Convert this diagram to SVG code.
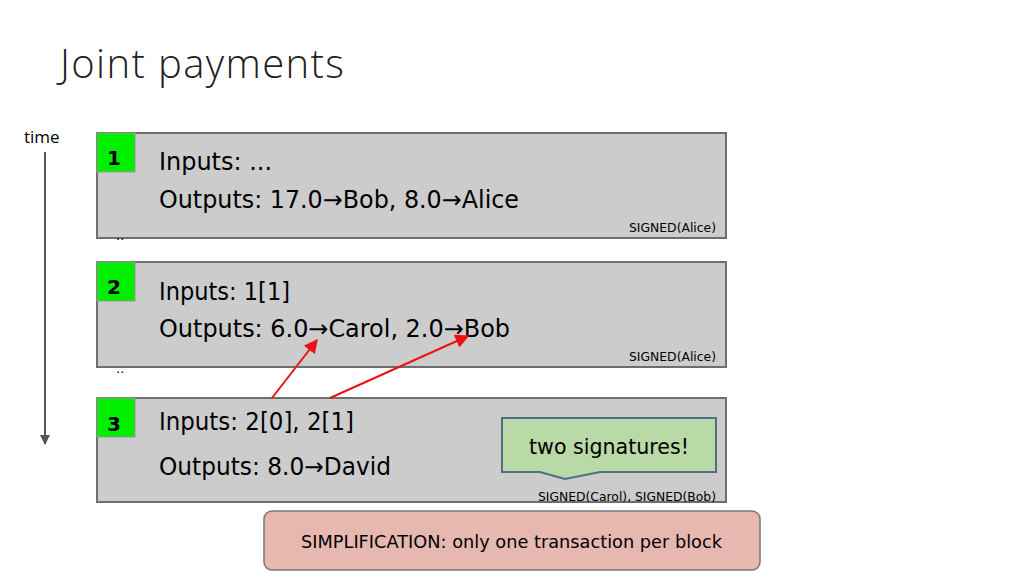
<svg xmlns="http://www.w3.org/2000/svg" width="1024" height="576" viewBox="0 0 1024 576">
<style>
.blk{fill:#cccccc;stroke:#6e6e6e;stroke-width:2}
.num{fill:#00ee00;stroke:#999;stroke-width:1}
.t{font-family:"DejaVu Sans",sans-serif;fill:#000}
.m{font-size:24px}
.s{font-size:13px}
.n{font-size:20px;font-weight:bold}
.arr{stroke:#ee1111;stroke-width:2;fill:none}
</style>
<defs>
<marker id="ra" viewBox="0 0 10 10" refX="9" refY="5" markerWidth="7" markerHeight="7" orient="auto"><path d="M0,0L10,5L0,10z" fill="#ee1111"/></marker>
<marker id="ga" viewBox="0 0 10 10" refX="9" refY="5" markerWidth="5" markerHeight="5" orient="auto"><path d="M0,0L10,5L0,10z" fill="#555"/></marker>
</defs>
<rect width="1024" height="576" fill="#fff"/>
<text x="60" y="78" font-family="Open Sans,Liberation Sans,sans-serif" font-weight="300" font-size="40" fill="#222" textLength="284">Joint payments</text>
<text x="24" y="143" font-family="Open Sans,Liberation Sans,sans-serif" font-size="17">time</text>
<line x1="45" y1="152" x2="45" y2="444" stroke="#555" stroke-width="2" marker-end="url(#ga)"/>
<g id="b1">
<rect x="97" y="133" width="629" height="105" class="blk"/>
<rect x="97" y="133" width="38" height="39" class="num"/>
<text x="107" y="165" class="t n">1</text>
<text x="159" y="170" class="t m" textLength="113" lengthAdjust="spacingAndGlyphs">Inputs: ...</text>
<text x="159" y="208" class="t m" textLength="360" lengthAdjust="spacingAndGlyphs">Outputs: 17.0→Bob, 8.0→Alice</text>
<text x="716" y="232" class="t s" text-anchor="end" textLength="87" lengthAdjust="spacingAndGlyphs">SIGNED(Alice)</text>
<text x="116" y="240" class="t s">..</text>
</g>
<g id="b2">
<rect x="97" y="262" width="629" height="105" class="blk"/>
<rect x="97" y="262" width="38" height="39" class="num"/>
<text x="107" y="294" class="t n">2</text>
<text x="159" y="300" class="t m" textLength="131" lengthAdjust="spacingAndGlyphs">Inputs: 1[1]</text>
<text x="159" y="337" class="t m" textLength="351" lengthAdjust="spacingAndGlyphs">Outputs: 6.0→Carol, 2.0→Bob</text>
<text x="716" y="361" class="t s" text-anchor="end" textLength="87" lengthAdjust="spacingAndGlyphs">SIGNED(Alice)</text>
<text x="116" y="373" class="t s">..</text>
</g>
<g id="b3">
<rect x="97" y="398" width="629" height="104" class="blk"/>
<rect x="97" y="398" width="38" height="39" class="num"/>
<text x="107" y="431" class="t n">3</text>
<text x="159" y="430" class="t m" textLength="195" lengthAdjust="spacingAndGlyphs">Inputs: 2[0], 2[1]</text>
<text x="159" y="475" class="t m" textLength="232" lengthAdjust="spacingAndGlyphs">Outputs: 8.0→David</text>
<text x="716" y="501" class="t s" text-anchor="end" textLength="178" lengthAdjust="spacingAndGlyphs">SIGNED(Carol), SIGNED(Bob)</text>
</g>
<g id="callout">
<path d="M502,418H716V472H600L565,479L540,472H502Z" fill="#b9d9a7" stroke="#4f6f80" stroke-width="2"/>
<text x="529" y="454" class="t" font-size="22" textLength="160" lengthAdjust="spacingAndGlyphs">two signatures!</text>
</g>
<g id="note">
<rect x="264" y="511" width="496" height="59" rx="8" fill="#e6b8b0" stroke="#777" stroke-width="1.5"/>
<text x="301" y="548" class="t" font-size="18" textLength="421" lengthAdjust="spacingAndGlyphs">SIMPLIFICATION: only one transaction per block</text>
</g>
<g id="connectors">
<line x1="272" y1="398" x2="317" y2="340" class="arr" marker-end="url(#ra)"/>
<line x1="330" y1="398" x2="468" y2="336" class="arr" marker-end="url(#ra)"/>
</g>
</svg>
